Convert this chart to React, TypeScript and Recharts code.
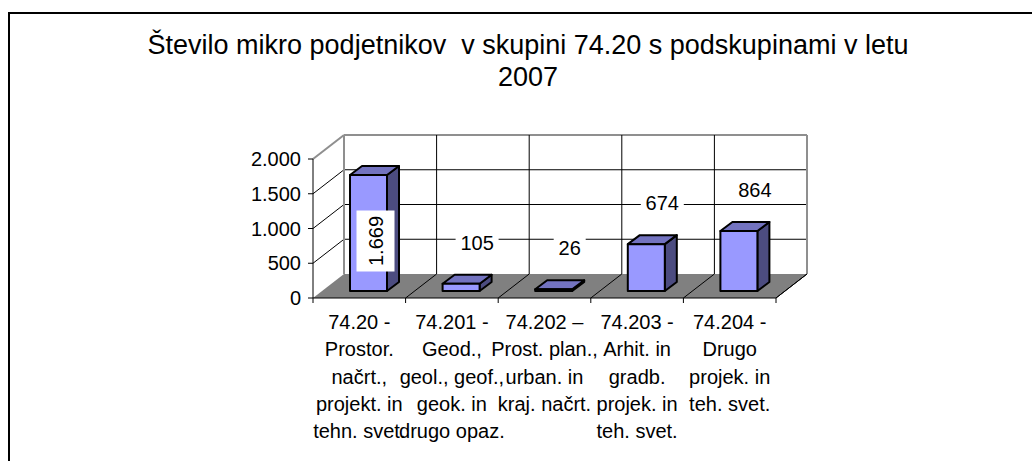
import { Bar, BarChart, CartesianGrid, LabelList, XAxis, YAxis } from 'recharts';

const titleLines = ['Število mikro podjetnikov  v skupini 74.20 s podskupinami v letu', '2007'];

const categories = [
  '74.20 - Prostor. načrt., projekt. in tehn. svet.',
  '74.201 - Geod., geol., geof., geok. in drugo opaz.',
  '74.202 – Prost. plan., urban. in kraj. načrt.',
  '74.203 - Arhit. in gradb. projek. in teh. svet.',
  '74.204 - Drugo projek. in teh. svet.',
];

const categoryLines = [
  ['74.20 -', 'Prostor.', 'načrt.,', 'projekt. in', 'tehn. svet.'],
  ['74.201 -', 'Geod.,', 'geol., geof.,', 'geok. in', 'drugo opaz.'],
  ['74.202 –', 'Prost. plan.,', 'urban. in', 'kraj. načrt.'],
  ['74.203 -', 'Arhit. in', 'gradb.', 'projek. in', 'teh. svet.'],
  ['74.204 -', 'Drugo', 'projek. in', 'teh. svet.'],
];

const counts = [1669, 105, 26, 674, 864];

const yTicks = [0, 500, 1000, 1500, 2000];

const data = categories.map((name, i) => ({ name, value: counts[i] }));

// layout (px, inside the frame)
const W = 1030;
const H = 460;
const PLOT_TOP = 145;
const PLOT_BOTTOM = 284;
const DX = 31; // back wall depth
const DY = 24;
const BAR_DX = 9; // bar sits a bit behind the front plane
const BAR_DY = 7;
const SIDE_DX = 12; // bar depth
const SIDE_DY = 9;

const FONT = '"Liberation Sans", Arial, sans-serif';
const GRAY_EDGE = '#8f8f8f';

const fmt = (v: number) => String(v).replace(/\B(?=(\d{3})+(?!\d))/g, '.');

const HLine = (p: any) => {
  const { x1, y1, x2 } = p;
  if (Math.abs(y1 - PLOT_BOTTOM) < 0.5) {
    const pts = `${x1},${y1} ${x2},${y1} ${x2 + DX},${y1 - DY} ${x1 + DX},${y1 - DY}`;
    return (
      <g key={`h-${p.index}`}>
        <polygon points={pts} fill="#808080" stroke="none" />
        <line x1={x2} y1={y1} x2={x2 + DX} y2={y1 - DY} stroke="#000" strokeWidth={1} />
      </g>
    );
  }
  const top = Math.abs(y1 - PLOT_TOP) < 0.5;
  const c = top ? GRAY_EDGE : '#000';
  return (
    <g key={`h-${p.index}`}>
      <line x1={x1 + DX} y1={y1 - DY} x2={x2 + DX} y2={y1 - DY} stroke={c} strokeWidth={top ? 2 : 1} />
      <line x1={x1} y1={y1} x2={x1 + DX} y2={y1 - DY} stroke={c} strokeWidth={top ? 2 : 1} />
    </g>
  );
};

const VLine = (p: any) => {
  const { x1, index } = p;
  const last = index === categories.length;
  const first = index === 0;
  const edge = first || last;
  return (
    <g key={`v-${index}`}>
      <line
        x1={x1 + DX}
        y1={PLOT_TOP - DY}
        x2={x1 + DX}
        y2={PLOT_BOTTOM - DY}
        stroke={edge ? GRAY_EDGE : '#000'}
        strokeWidth={edge ? 2 : 1}
      />
      {!first && <line x1={x1} y1={PLOT_BOTTOM} x2={x1 + DX} y2={PLOT_BOTTOM - DY} stroke="#000" strokeWidth={1} />}
      <line x1={x1} y1={PLOT_BOTTOM} x2={x1} y2={PLOT_BOTTOM + 5} stroke="#000" strokeWidth={1} />
    </g>
  );
};

const Bar3D = (props: any) => {
  const { x, y, width, height } = props;
  const fx = x + BAR_DX;
  const fy = y - BAR_DY;
  const h = Math.max(height, 0);
  const top = `${fx},${fy} ${fx + SIDE_DX},${fy - SIDE_DY} ${fx + width + SIDE_DX},${fy - SIDE_DY} ${fx + width},${fy}`;
  const side = `${fx + width},${fy} ${fx + width + SIDE_DX},${fy - SIDE_DY} ${fx + width + SIDE_DX},${fy + h - SIDE_DY} ${fx + width},${fy + h}`;
  return (
    <g stroke="#000" strokeWidth={2} strokeLinejoin="round">
      <polygon points={side} fill="#4c4c80" />
      <polygon points={top} fill="#7373c0" />
      <rect x={fx} y={fy} width={width} height={h} fill="#9999ff" />
    </g>
  );
};

const ValueLabel = (props: any) => {
  const vb = props.viewBox ?? props;
  const x = vb.x ?? props.x;
  const y = vb.y ?? props.y;
  const width = vb.width ?? props.width;
  const height = vb.height ?? props.height;
  const text = fmt(Number(props.value));
  const fx = x + BAR_DX;
  const fy = y - BAR_DY;
  if (fy - 41 - 13 < PLOT_TOP - DY) {
    const cx = fx + width / 2 + 7;
    const cy = fy + height / 2 + 8;
    return (
      <g transform={`translate(${cx},${cy}) rotate(-90)`}>
        <rect x={-30.5} y={-19} width={61} height={38} fill="#fff" />
        <text x={0} y={0} dy="0.355em" textAnchor="middle" fontSize={20} fontFamily={FONT} fill="#000">
          {text}
        </text>
      </g>
    );
  }
  const cx = fx + width / 2 + 16;
  const cy = fy - 41;
  const w = text.length * 11 + 10;
  return (
    <g>
      <rect x={cx - w / 2} y={cy - 13} width={w} height={26} fill="#fff" />
      <text x={cx} y={cy} dy="0.355em" textAnchor="middle" fontSize={20} fontFamily={FONT} fill="#000">
        {text}
      </text>
    </g>
  );
};

const CategoryTick = (props: any) => {
  const { x, y, payload } = props;
  const i = categories.indexOf(payload.value);
  const lines = categoryLines[i] ?? [payload.value];
  return (
    <text x={x} y={y} textAnchor="middle" fontSize={20} fontFamily={FONT} fill="#000">
      {lines.map((l, k) => (
        <tspan key={k} x={x} dy={k === 0 ? 23 : 27.3}>
          {l}
        </tspan>
      ))}
    </text>
  );
};

const App = () => {
  return (
    <div
      style={{
        position: 'fixed',
        left: 8,
        top: 12,
        width: 1036,
        height: 470,
        border: '2px solid #000',
        background: '#fff',
        fontFamily: FONT,
      }}
    >
      <div
        style={{
          position: 'absolute',
          top: 15,
          left: 0,
          width: 1036,
          textAlign: 'center',
          fontSize: 27,
          lineHeight: '32px',
          whiteSpace: 'pre',
          color: '#000',
        }}
      >
        {titleLines.map((t, i) => (
          <div key={i}>{t}</div>
        ))}
      </div>
      <div style={{ position: 'absolute', top: 0, left: 0 }}>
        <BarChart width={W} height={H} data={data} margin={{ top: 145, right: 264, bottom: 26, left: 0 }}>
          <CartesianGrid
            horizontal={HLine}
            vertical={VLine}
            verticalCoordinatesGenerator={({ offset }: any) =>
              [...categories, ''].map((_, i) => offset.left + (offset.width * i) / categories.length)
            }
          />
          <XAxis
            dataKey="name"
            height={150}
            interval={0}
            tickLine={false}
            axisLine={{ stroke: '#000', strokeWidth: 1 }}
            tick={<CategoryTick />}
          />
          <YAxis
            width={303}
            domain={[0, 2000]}
            ticks={yTicks}
            interval={0}
            tickFormatter={fmt}
            tickSize={5}
            tickMargin={7}
            axisLine={{ stroke: '#000', strokeWidth: 1 }}
            tickLine={{ stroke: '#000' }}
            tick={{ fill: '#000', fontSize: 20, fontFamily: FONT }}
          />
          <Bar dataKey="value" barSize={37} shape={Bar3D} isAnimationActive={false}>
            <LabelList dataKey="value" content={ValueLabel} />
          </Bar>
        </BarChart>
      </div>
    </div>
  );
};

export default App;
